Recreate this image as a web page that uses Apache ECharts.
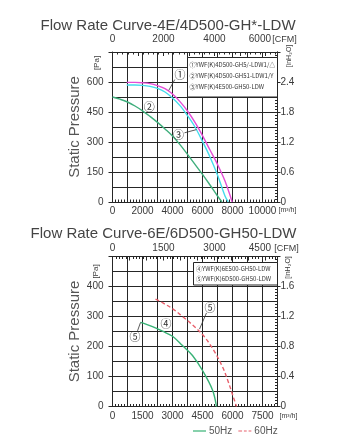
<!DOCTYPE html>
<html><head><meta charset="utf-8">
<script src="https://cdn.jsdelivr.net/npm/echarts@6/dist/echarts.min.js"></script>
<style>html,body{margin:0;padding:0;background:#fff}#c{width:345px;height:448px}</style>
</head><body><div id="c"></div>
<script>
// ---------- DATA (flow in m³/h, static pressure in Pa) ----------
const titleTop = 'Flow Rate Curve-4E/4D500-GH*-LDW';
const titleBottom = 'Flow Rate Curve-6E/6D500-GH50-LDW';

// Chart 1, curve ① (magenta)
const q1 = [950, 1500, 2000, 2500, 3000, 3500, 4000, 4500, 5000, 5500, 6000, 6500, 7000, 7500, 7980];
const p1 = [598, 598, 596, 592, 582, 567, 540, 502, 455, 398, 332, 260, 188, 105, 0];
// Chart 1, curve ② (green)
const q2 = [0, 500, 1000, 1500, 2000, 2500, 3000, 3500, 4000, 4500, 5000, 5500, 6000, 6500, 7000, 7300];
const p2 = [525, 514, 500, 480, 456, 428, 398, 365, 330, 287, 238, 188, 138, 85, 30, 0];
// Chart 1, curve ③ (cyan)
const q3 = [950, 1500, 2000, 2500, 3000, 3500, 4000, 4500, 5000, 5500, 6000, 6500, 7000, 7500, 7720];
const p3 = [585, 585, 583, 578, 568, 550, 520, 482, 432, 375, 303, 225, 135, 30, 0];

// Chart 2, curve ④ 50Hz (green solid)
const q4 = [1400, 1500, 2000, 2500, 3000, 3500, 4000, 4500, 5000, 5200];
const p4 = [280, 279, 266, 251, 234, 203, 170, 120, 55, 0];
// Chart 2, curve ⑤ 60Hz (red dashed)
const q5 = [2150, 2500, 3000, 3500, 4000, 4500, 5000, 5500, 5800, 6050, 6200];
const p5 = [358, 346, 326, 300, 272, 240, 194, 132, 80, 30, 0];

const legendTop = ['①YWF(K)4D500-GH5/-LDW1/△', '②YWF(K)4D500-GH51-LDW1/Y', '③YWF(K)4E500-GH50-LDW'];
const legendBottom = ['④YWF(K)6E500-GH50-LDW', '⑤YWF(K)6D500-GH50-LDW'];
const legendHz = ['50Hz', '60Hz'];

// axis ranges
const flowMaxTop = 11000, flowStepTop = 1000, flowLabelTop = 2000;
const paMaxTop = 750, paStepTop = 150;
const flowMaxBot = 8250, flowStepBot = 750, flowLabelBot = 1500;
const paMaxBot = 500, paStepBot = 100;
const M3H_PER_CFM = 1.699;
const PA_PER_INH2O = 250;

// ---------- CHART ----------
const FONT = '"Liberation Sans", Arial, sans-serif';
const CJK = '"Noto Sans CJK SC", sans-serif';
const G = '#262626';
const TXT = '#3a3a3a';
const pairs = (xs, ys) => xs.map((x, i) => [x, ys[i]]);

function flowAxis(gi, max, step, labelStep, margin) {
  return {
    type: 'value', gridIndex: gi, position: 'bottom', min: 0, max: max, interval: step,
    axisLine: { onZero: false, lineStyle: { color: G, width: 1 } },
    axisTick: { inside: true, length: 4, lineStyle: { color: G } },
    minorTick: { show: true, splitNumber: 5, length: 2.5, lineStyle: { color: G } },
    splitLine: { show: true, lineStyle: { color: G, width: 1 } },
    axisLabel: { margin: margin, fontSize: 10, color: TXT, fontFamily: FONT,
      formatter: v => (v % labelStep === 0 ? String(v) : '') }
  };
}
function cfmAxis(gi, max, step, labelStep, lastLabel, margin) {
  return {
    type: 'value', gridIndex: gi, position: 'top', min: 0, max: max / M3H_PER_CFM, interval: step,
    axisLine: { onZero: false, lineStyle: { color: G, width: 1 } },
    axisTick: { inside: true, length: 4, lineStyle: { color: G } },
    minorTick: { show: true, splitNumber: 5, length: 2.5, lineStyle: { color: G } },
    splitLine: { show: false },
    axisLabel: { margin: margin, fontSize: 10, color: TXT, fontFamily: FONT,
      formatter: v => (Math.abs(v - lastLabel) < 1e-6 ? '{s|' + v + '}' : (v % labelStep === 0 ? String(v) : '')),
      rich: { s: { fontSize: 10, color: TXT, fontFamily: FONT, padding: [0, 11, 0, 0] } } }
  };
}
function paAxis(gi, max, step) {
  return {
    type: 'value', gridIndex: gi, position: 'left', min: 0, max: max, interval: step,
    axisLine: { onZero: false, lineStyle: { color: G, width: 1 } },
    axisTick: { inside: false, length: 4, lineStyle: { color: G } },
    minorTick: { show: false, splitNumber: 2 },
    splitLine: { show: true, lineStyle: { color: G, width: 1 } },
    minorSplitLine: { show: true, lineStyle: { color: G, width: 1 } },
    axisLabel: { margin: 9, fontSize: 10, color: TXT, fontFamily: FONT,
      formatter: v => (v < max - 1e-6 ? String(v) : '') }
  };
}
function inAxisLabels(gi, maxPa, stepPa) {
  const max = maxPa / PA_PER_INH2O;
  return {
    type: 'value', gridIndex: gi, position: 'right', min: 0, max: max, interval: stepPa / PA_PER_INH2O,
    axisLine: { onZero: false, lineStyle: { color: G, width: 1 } },
    axisTick: { inside: false, length: 3, lineStyle: { color: G } },
    splitLine: { show: false },
    axisLabel: { margin: 3, fontSize: 10, color: TXT, fontFamily: FONT,
      formatter: v => (v > max - 1e-6 ? '' : (v === 0 ? '0' : v.toFixed(1))) }
  };
}
function inAxisRuler(gi, maxPa, stepPa) {
  return {
    type: 'value', gridIndex: gi, position: 'right', min: 0, max: maxPa / PA_PER_INH2O,
    interval: stepPa / 2 / PA_PER_INH2O,
    axisLine: { onZero: false, lineStyle: { color: G, width: 1 } },
    axisTick: { inside: true, length: 4, lineStyle: { color: G } },
    minorTick: { show: true, splitNumber: 5, length: 2.5, lineStyle: { color: G } },
    splitLine: { show: false },
    axisLabel: { show: false }
  };
}

const ann = (txt, x, y) => ({ coord: [x, y], symbol: 'circle', symbolSize: 1,
  itemStyle: { color: 'rgba(0,0,0,0)' },
  label: { show: true, position: 'inside', formatter: txt, fontSize: 11, color: '#333', fontFamily: CJK } });
const leader = (x1, y1, x2, y2) => [{ coord: [x1, y1] }, { coord: [x2, y2] }];
const mlBase = { silent: true, symbol: ['none', 'none'], label: { show: false },
  lineStyle: { color: '#333', width: 0.8, type: 'solid' }, animation: false };
const mpBase = { silent: true, animation: false };

function curve(name, xi, yi, xs, ys, color, dashed, points, lines) {
  const s = {
    name: name, type: 'line', xAxisIndex: xi, yAxisIndex: yi, data: pairs(xs, ys),
    smooth: 0.35, showSymbol: false, symbol: 'none', z: 3,
    lineStyle: { color: color, width: 1.4, type: dashed ? [4, 2.5] : 'solid' },
    itemStyle: { color: color }
  };
  if (points) s.markPoint = Object.assign({ data: points }, mpBase);
  if (lines) s.markLine = Object.assign({ data: lines }, mlBase);
  return s;
}

const txt = (text, x, y, size, opts) => Object.assign({
  type: 'text', x: x, y: y, z: 20,
  style: Object.assign({ text: text, fill: TXT, fontSize: size, fontFamily: FONT,
    textAlign: 'center', align: 'center', textVerticalAlign: 'middle', verticalAlign: 'middle' }, (opts && opts.style) || {})
}, opts ? { rotation: opts.rotation || 0 } : {});

const graphics = [
  txt(titleTop, 168, 25.5, 15, { style: { fill: '#444' } }),
  txt(titleBottom, 163.5, 234, 15, { style: { fill: '#444' } }),
  txt('Static Pressure', 75, 127, 15, { rotation: Math.PI / 2, style: { fill: '#555' } }),
  txt('Static Pressure', 75, 331.5, 15, { rotation: Math.PI / 2, style: { fill: '#555' } }),
  txt('[Pa]', 96.5, 63, 8, { rotation: Math.PI / 2 }),
  txt('[Pa]', 96, 271.5, 8, { rotation: Math.PI / 2 }),
  txt('[inH\u2082O]', 289, 56, 7, { rotation: Math.PI / 2 }),
  txt('[inH\u2082O]', 288.5, 267.5, 7, { rotation: Math.PI / 2 }),
  txt('[m\u00b3/h]', 287.5, 210, 7),
  txt('[m\u00b3/h]', 288.5, 416.5, 7),
  txt('[CFM]', 284.5, 39.5, 9),
  txt('[CFM]', 286.5, 249, 9),
  { type: 'rect', z: 15, shape: { x: 187.5, y: 57.5, width: 90, height: 39.5 },
    style: { fill: '#fff', stroke: G, lineWidth: 1 } },
  { type: 'rect', z: 15, shape: { x: 193.5, y: 262.5, width: 84, height: 22.5 },
    style: { fill: '#fff', stroke: G, lineWidth: 1 } }
];
legendTop.forEach((t, i) => graphics.push(txt(t, 189.5, 64.5 + i * 11.3, 6,
  { style: { textAlign: 'left', align: 'left', fill: '#333', fontFamily: CJK } })));
legendBottom.forEach((t, i) => graphics.push(txt(t, 196, 268.5 + i * 10, 6,
  { style: { textAlign: 'left', align: 'left', fill: '#333', fontFamily: CJK } })));

const option = {
  animation: false,
  backgroundColor: '#fff',
  grid: [
    { left: 112.5, top: 52, width: 165, height: 150 },
    { left: 112.5, top: 256.5, width: 165, height: 150 }
  ],
  xAxis: [
    flowAxis(0, flowMaxTop, flowStepTop, flowLabelTop, 4),
    cfmAxis(0, flowMaxTop, 1000, 2000, 6000, 8),
    flowAxis(1, flowMaxBot, flowStepBot, flowLabelBot, 5),
    cfmAxis(1, flowMaxBot, 500, 1500, 4500, 3)
  ],
  yAxis: [
    paAxis(0, paMaxTop, paStepTop),
    inAxisLabels(0, paMaxTop, paStepTop),
    inAxisRuler(0, paMaxTop, paStepTop),
    paAxis(1, paMaxBot, paStepBot),
    inAxisLabels(1, paMaxBot, paStepBot),
    inAxisRuler(1, paMaxBot, paStepBot)
  ],
  legend: {
    data: [
      { name: legendHz[0], icon: 'path://M0,0h14v1.3h-14z' },
      { name: legendHz[1], icon: 'path://M0,0h4v1.3h-4z M6,0h3v1.3h-3z M11,0h3v1.3h-3z' }
    ],
    left: 188, top: 421, itemWidth: 13, itemHeight: 1.4, itemGap: 6,
    textStyle: { fontSize: 10, color: '#555', fontFamily: FONT, padding: [0, 0, 0, -2] },
    selectedMode: false
  },
  series: [
    curve('①', 0, 0, q1, p1, '#e44cd6', false,
      [ann('①', 4500, 635)], [leader(4150, 612, 3750, 558)]),
    curve('②', 0, 0, q2, p2, '#3fae7c', false,
      [ann('②', 2450, 476)], null),
    curve('③', 0, 0, q3, p3, '#44dcec', false,
      [ann('③', 4400, 336)], [leader(4800, 346, 5600, 362)]),
    curve(legendHz[0], 2, 3, q4, p4, '#38b276', false,
      [ann('④', 2675, 275), ann('⑤', 1125, 233)], [leader(1250, 252, 1400, 280)]),
    curve(legendHz[1], 2, 3, q5, p5, '#e8606c', true,
      [ann('⑤', 4875, 328)], [leader(4700, 312, 4350, 258)])
  ],
  graphic: graphics
};
const chart = echarts.init(document.getElementById('c'));
chart.setOption(option);
</script>
</body></html>
